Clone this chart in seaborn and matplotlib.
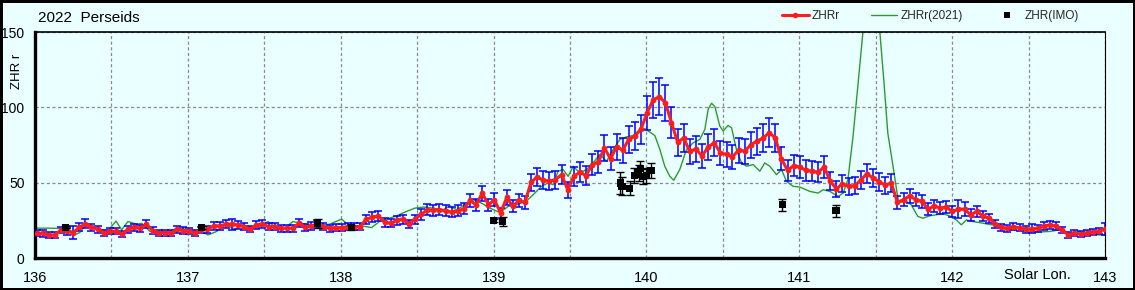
import numpy as np
import pandas as pd
import matplotlib
matplotlib.use("Agg")
import matplotlib.pyplot as plt
from matplotlib.lines import Line2D
from matplotlib.ticker import MultipleLocator, FixedLocator
import seaborn as sns

# ---------------- data ----------------
title = "2022  Perseids"
ylabel = "ZHR r"
xlabel_text = "Solar Lon."
legend_labels = ["ZHRr", "ZHRr(2021)", "ZHR(IMO)"]
x_ticks = [136, 137, 138, 139, 140, 141, 142, 143]
y_ticks = [0, 50, 100, 150]

# ZHRr 2022 (hourly, solar longitude 136.01 .. 143.0)
zhr = [16.4, 16.4, 15.3, 15.3, 18.7, 17.6, 16.9, 20.4, 22.7, 20.4, 19.1, 16.9, 17.6, 17.6, 15.8,
       19.1, 20.4, 19.8, 22.4, 18.2, 16.9, 16.9, 16.4, 19.1, 18.2, 17.6, 16.9, 18.7, 19.1, 21.3,
       21.3, 22.4, 22.4, 22.0, 20.9, 19.3, 22.0, 22.4, 20.9, 20.9, 19.8, 19.8, 19.8, 23.1,
       20.4, 21.3, 22.4, 20.9, 19.8, 20.2, 20.2, 20.9, 20.9, 20.9, 25.8, 27.1, 28.0, 23.6, 23.1,
       24.9, 25.8, 22.4, 25.8, 28.9, 32.0, 31.6, 32.0, 31.3, 30.4, 31.3, 32.7, 38.2, 35.3, 43.1,
       35.3, 38.7, 29.8, 40.2, 34.2, 38.2, 36.9, 50.2, 53.8, 51.6, 50.9, 52.0, 55.3, 45.3,
       54.2, 56.9, 54.7, 62.0, 63.6, 73.1, 65.8, 73.8, 71.6, 78.7, 80.9, 85.3, 96.4, 104.9, 107.1,
       103.1, 89.8, 76.9, 79.6, 70.7, 72.4, 67.6, 73.8, 76.4, 69.8, 68.7, 67.1, 71.6, 70.9, 75.1,
       77.6, 79.6, 83.1, 79.8, 65.8, 58.2, 61.3, 60.4, 58.2, 57.6, 56.9, 60.4, 50.9, 45.8, 49.3,
       47.6, 48.0, 51.6, 56.0, 53.1, 50.7, 48.4, 49.8, 36.9,
       38.7, 41.3, 38.7, 37.6, 32.4, 34.7, 33.1, 33.8, 30.9, 32.4, 32.4, 28.7, 30.9, 28.0, 26.4,
       22.7, 20.4, 19.6, 20.9, 20.0, 19.1, 19.3, 19.6, 21.3, 21.8, 21.3, 18.7, 15.3, 16.4, 16.0,
       16.4, 17.3, 17.6, 19.1]
zhr_err = [2.0, 2.2, 1.8, 1.8, 2.2, 2.5, 4.4, 2.5, 3.0, 2.4, 2.2, 2.0, 2.0, 2.0, 1.9,
           2.2, 2.4, 2.3, 2.6, 2.2, 2.0, 2.0, 2.0, 2.2, 2.1, 2.0, 2.0, 2.2, 2.2, 2.5,
           2.5, 2.6, 3.5, 2.6, 2.4, 2.2, 2.6, 2.6, 2.4, 2.4, 2.3, 2.3, 2.3, 2.7,
           2.4, 2.5, 2.6, 2.4, 2.3, 2.4, 2.4, 2.4, 2.4, 2.4, 3.0, 3.2, 3.3, 2.8, 2.7,
           2.9, 3.0, 2.6, 3.0, 3.4, 3.7, 3.7, 3.7, 3.6, 3.5, 3.6, 3.8, 4.4, 4.1, 5.0,
           4.1, 4.5, 3.5, 4.7, 4.0, 4.4, 4.3, 5.8, 6.2, 6.0, 5.9, 6.0, 6.4, 5.3,
           6.3, 6.6, 6.3, 7.2, 7.4, 8.5, 7.6, 8.6, 8.3, 9.1, 9.4, 9.9, 11.2, 12.2, 12.4,
           12.0, 10.4, 8.9, 9.2, 8.2, 8.4, 7.8, 8.6, 8.9, 8.1, 8.0, 7.8, 8.3, 8.2, 8.7,
           9.0, 9.2, 9.6, 9.3, 7.6, 6.8, 7.1, 7.0, 6.8, 6.7, 6.6, 7.2, 5.9, 5.3, 5.7,
           5.5, 5.6, 6.0, 6.5, 6.2, 5.9, 5.6, 5.8, 4.3,
           4.5, 4.8, 4.5, 4.4, 3.8, 4.0, 3.8, 3.9, 3.6, 6.0, 4.5, 4.0, 3.6, 3.3, 3.1,
           2.6, 2.4, 2.3, 2.4, 2.3, 2.2, 3.0, 2.3, 2.5, 2.5, 2.5, 2.2, 1.8, 1.9, 1.9,
           1.9, 2.0, 2.0, 4.0]
zhr_lon = np.round(np.linspace(136.01, 143.0, len(zhr)), 3)

# ZHRr 2021 (smooth curve)
g_lon = [136.000, 136.098, 136.177, 136.229, 136.268, 136.294, 136.327, 136.373, 136.425, 136.477,
         136.530, 136.567, 136.608, 136.665, 136.698, 136.752, 136.818, 136.870, 136.935, 137.014,
         137.090, 137.131, 137.188, 137.243, 137.282, 137.308, 137.352, 137.417, 137.483, 137.524,
         137.570, 137.635, 137.687, 137.744, 137.799, 137.864, 137.929, 138.006, 138.060, 138.126,
         138.202, 138.256, 138.300, 138.366, 138.431, 138.485, 138.540, 138.605, 138.670, 138.714,
         138.758, 138.823, 138.867, 138.921, 138.976, 139.041, 139.095, 139.150, 139.216, 139.259,
         139.314, 139.357, 139.390, 139.422, 139.455, 139.488, 139.521, 139.564, 139.608, 139.651,
         139.695, 139.739, 139.782, 139.826, 139.870, 139.913, 139.957, 139.990, 140.022, 140.055,
         140.088, 140.120, 140.153, 140.179, 140.218, 140.262, 140.305, 140.349, 140.382, 140.404,
         140.426, 140.448, 140.480, 140.502, 140.534, 140.557, 140.589, 140.622, 140.655, 140.698,
         140.742, 140.774, 140.807, 140.851, 140.884, 140.916, 140.959, 141.003, 141.069, 141.123,
         141.156, 141.200, 141.254, 141.287, 141.318, 141.351, 141.383, 141.416, 141.449, 141.474,
         141.500, 141.527, 141.553, 141.579, 141.613, 141.640, 141.651, 141.700, 141.732, 141.776,
         141.809, 141.853, 141.897, 141.940, 141.984, 142.027, 142.060, 142.093, 142.137, 142.202,
         142.257, 142.290, 142.333, 142.377, 142.442, 142.508, 142.573, 142.638, 142.704, 142.769,
         142.835, 142.900, 142.965, 143.009]
g_val = [19.8, 19.8, 19.6, 18.5, 15.8, 17.0, 21.5, 20.5, 19.0, 18.0,
         24.5, 18.7, 24.2, 22.4, 23.0, 17.6, 17.6, 17.6, 19.8, 18.7,
         17.6, 15.3, 17.6, 22.0, 20.5, 18.7, 22.0, 20.4, 21.3, 24.2,
         20.9, 19.8, 24.2, 23.0, 22.0, 21.5, 22.5, 25.8, 21.0, 21.5,
         20.2, 24.4, 25.8, 28.0, 30.9, 33.1, 33.8, 33.1, 32.0, 34.7,
         32.0, 36.0, 38.7, 36.4, 33.1, 30.2, 34.2, 35.3, 37.8, 42.0,
         47.6, 49.8, 48.7, 57.6, 58.7, 54.2, 60.9, 56.4, 58.7, 63.1,
         68.7, 64.2, 72.0, 78.7, 80.4, 81.3, 85.3, 85.8, 83.6, 81.3,
         72.0, 60.9, 54.2, 51.6, 58.7, 72.0, 76.4, 78.7, 85.3, 98.7,
         102.7, 100.4, 87.6, 84.2, 88.0, 86.4, 72.0, 63.1, 60.9, 62.0,
         57.6, 63.1, 60.9, 55.3, 58.7, 50.9, 47.6, 47.1, 44.2, 43.1,
         45.3, 44.2, 40.9, 43.1, 52.0, 80.0, 114.0, 150.0, 185.0, 200.0,
         185.0, 150.0, 118.0, 83.0, 61.0, 43.0, 36.9, 37.6, 35.3, 27.6,
         26.4, 28.0, 28.7, 29.3, 28.0, 25.3, 22.0, 25.3, 24.2, 23.1,
         22.0, 22.7, 19.6, 18.7, 18.2, 17.6, 17.3, 17.6, 18.7, 16.4,
         17.6, 16.0, 15.3, 15.3]

# ZHR (IMO)
imo_lon = [136.20, 137.09, 137.85, 138.07, 139.00, 139.06, 139.83, 139.84, 139.89, 139.92,
           139.95, 139.96, 139.98, 140.00, 140.03, 140.89, 141.24]
imo_val = [20.4, 20.4, 22.7, 20.2, 24.7, 24.2, 49.8, 47.6, 46.4, 54.9,
           56.4, 59.1, 54.2, 54.9, 58.2, 35.3, 31.3]
imo_err = [0.8, 1.0, 2.9, 1.5, 1.0, 3.0, 7.0, 6.0, 4.5, 5.0,
           5.0, 5.5, 5.0, 5.0, 5.0, 3.9, 4.0]

# ---------------- style ----------------
BG = "#EAFFFF"
RED = "#FF1C1C"
BLUE = "#0000FF"
GREEN = "#2E9A2E"

sns.set_theme(style="white")
plt.rcParams["font.family"] = ["Liberation Sans", "DejaVu Sans"]

W, H = 1135, 290
fig = plt.figure(figsize=(W / 100, H / 100), dpi=100, facecolor=BG)
fig.patch.set_edgecolor("black")
fig.patch.set_linewidth(2.5)
ax = fig.add_axes([35 / W, 32 / H, 1070 / W, 226 / H], facecolor=BG)

df_r = pd.DataFrame({"lon": zhr_lon, "zhr": zhr})
df_g = pd.DataFrame({"lon": g_lon, "zhr": g_val})
df_i = pd.DataFrame({"lon": imo_lon, "zhr": imo_val})

sns.lineplot(data=df_g, x="lon", y="zhr", color=GREEN, linewidth=1.0, ax=ax,
             zorder=2, legend=False, errorbar=None)
ax.errorbar(zhr_lon, zhr, yerr=zhr_err, fmt="none", ecolor=BLUE, elinewidth=1.1,
            capsize=3, capthick=1.1, zorder=3)
sns.lineplot(data=df_r, x="lon", y="zhr", color=RED, linewidth=2.2, marker="o",
             markersize=4.2, markeredgewidth=0, ax=ax, zorder=4, legend=False, errorbar=None)
ax.errorbar(imo_lon, imo_val, yerr=imo_err, fmt="none", ecolor="black", elinewidth=1.0,
            capsize=3, capthick=1.0, zorder=5)
sns.scatterplot(data=df_i, x="lon", y="zhr", marker="s", s=26, color="black",
                edgecolor="none", ax=ax, zorder=6, legend=False)

ax.set_xlim(136, 143)
ax.set_ylim(0, 150)
ax.set_xlabel("")
ax.set_ylabel("")

ax.xaxis.set_major_locator(FixedLocator(x_ticks))
ax.xaxis.set_minor_locator(MultipleLocator(0.5))
ax.yaxis.set_major_locator(FixedLocator(y_ticks))
ax.set_xticklabels([str(t) for t in x_ticks])
ax.set_yticklabels([str(t) for t in y_ticks])
ax.tick_params(axis="x", which="major", direction="in", length=3, width=1.5,
               color="black", pad=9, labelsize=10.5, labelcolor="black")
ax.tick_params(axis="x", which="minor", length=0)
ax.tick_params(axis="y", which="major", direction="in", length=3, width=1.5,
               color="black", pad=7.5, labelsize=10, labelcolor="black")

ax.grid(True, which="both", axis="x", color="#8a8a8a", linestyle=(0, (2.5, 2)), linewidth=0.9)
ax.grid(True, which="major", axis="y", color="#8a8a8a", linestyle=(0, (2.5, 2)), linewidth=0.9)
ax.set_axisbelow(True)

for side, lw in [("left", 2.4), ("bottom", 2.4), ("top", 1.2), ("right", 0.8)]:
    ax.spines[side].set_visible(True)
    ax.spines[side].set_color("black")
    ax.spines[side].set_linewidth(lw)

ax.text(142.56, -0.075, xlabel_text, transform=ax.get_xaxis_transform(),
        ha="center", va="center", fontsize=10.5, color="black")
fig.text(38 / W, 1 - 18 / H, title, ha="left", va="center", fontsize=11, color="black")
fig.text(17 / W, 1 - 71 / H, ylabel, ha="center", va="center", rotation=90,
         fontsize=9.5, color="black")

handles = [
    Line2D([], [], color=RED, linewidth=2.2, marker="o", markersize=4, markeredgewidth=0),
    Line2D([], [], color=GREEN, linewidth=1.0),
    Line2D([], [], color="black", linewidth=0, marker="s", markersize=4.5, markeredgewidth=0),
]
fig.legend(handles, legend_labels, loc="center left", bbox_to_anchor=(782 / W, 1 - 16 / H),
           ncol=3, frameon=False, fontsize=8.5, handlelength=2.25, handletextpad=0.3,
           columnspacing=2.6, borderpad=0, borderaxespad=0)

fig.savefig("out.png", dpi=100, facecolor=BG, edgecolor="black")
